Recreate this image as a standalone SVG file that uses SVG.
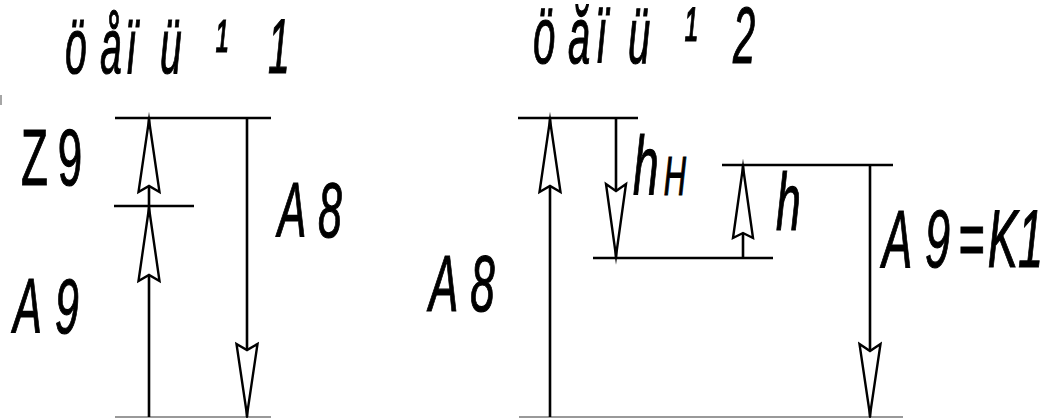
<svg xmlns="http://www.w3.org/2000/svg" width="1044" height="418" viewBox="0 0 1044 418">
<style>
.ln{stroke:#000;stroke-width:2.6;fill:none}
.gl{stroke:#777;stroke-width:1.6;fill:none}
.ar{stroke:#000;stroke-width:2.4;fill:#fff;stroke-linejoin:miter;stroke-miterlimit:20}
.t{font-family:"Liberation Sans",Arial,sans-serif;font-style:italic;fill:#000;stroke:#000;stroke-width:1.2}
.u{font-family:"Liberation Sans",Arial,sans-serif;fill:#000;stroke:#000;stroke-width:1.2}
</style>
<rect width="1044" height="418" fill="#fff"/>
<line x1="1" y1="95" x2="1" y2="105" stroke="#888" stroke-width="1.5"/>
<g id="title1"><text class="t" font-size="78" transform="scale(0.5,1)" x="130 200 252 320 430 536" y="73">öåïü¹1</text></g>
<g id="title2"><text class="t" font-size="80" transform="scale(0.5,1)" x="1066 1136 1192 1256 1368 1466" y="63">öăïü¹2</text></g>
<g id="connectors">
<line class="ln" x1="115" y1="118" x2="271" y2="118"/>
<line class="ln" x1="114" y1="206" x2="194" y2="206"/>
<line class="gl" x1="115" y1="417" x2="271" y2="417"/>
<line class="ln" x1="149" y1="118" x2="149" y2="417"/>
<line class="ln" x1="247" y1="118" x2="247" y2="417"/>
<polygon class="ar" points="149,120 159.5,192 149,186 138.5,192"/>
<polygon class="ar" points="149,208 159.5,281 149,275 138.5,281"/>
<polygon class="ar" points="247,415 257.5,344 247,350 236.5,344"/>
<line class="ln" x1="518" y1="118" x2="638" y2="118"/>
<line class="ln" x1="593" y1="258" x2="773" y2="258"/>
<line class="ln" x1="722" y1="165" x2="893" y2="165"/>
<line class="gl" x1="519" y1="417" x2="903" y2="417"/>
<line class="ln" x1="550" y1="118" x2="550" y2="417"/>
<line class="ln" x1="616" y1="118" x2="616" y2="258"/>
<line class="ln" x1="743" y1="165" x2="743" y2="258"/>
<line class="ln" x1="870" y1="165" x2="870" y2="417"/>
<polygon class="ar" points="550,120 560.5,192 550,186 539.5,192"/>
<polygon class="ar" points="616,256 626,184 616,191 606,184"/>
<polygon class="ar" points="743,167 753,238 743,233 733,238"/>
<polygon class="ar" points="870,415 880.5,344 870,351 859.5,344"/>
</g>
<g id="lbl-Z9"><text class="u" font-size="80" transform="scale(0.55,1)" x="38 105" y="185">Z9</text></g>
<g id="lbl-A9"><text class="t" font-size="78" transform="scale(0.55,1)" x="24 100" y="333">A9</text></g>
<g id="lbl-A8a"><text class="t" font-size="78" transform="scale(0.55,1)" x="505 578" y="237">A8</text></g>
<g id="lbl-A8b"><text class="t" font-size="80" transform="scale(0.55,1)" x="780 855" y="311">A8</text></g>
<g id="lbl-hH"><text class="t" font-size="84" transform="scale(0.55,1)" x="1151" y="195">h</text><text class="t" font-size="56" transform="scale(0.55,1)" x="1207" y="195">H</text></g>
<g id="lbl-h"><text class="t" font-size="81" transform="scale(0.55,1)" x="1411" y="230">h</text></g>
<g id="lbl-A9K1"><text class="t" font-size="82" transform="scale(0.55,1)" x="1604 1682 1742 1796 1851" y="267">A9=K1</text></g>
</svg>
